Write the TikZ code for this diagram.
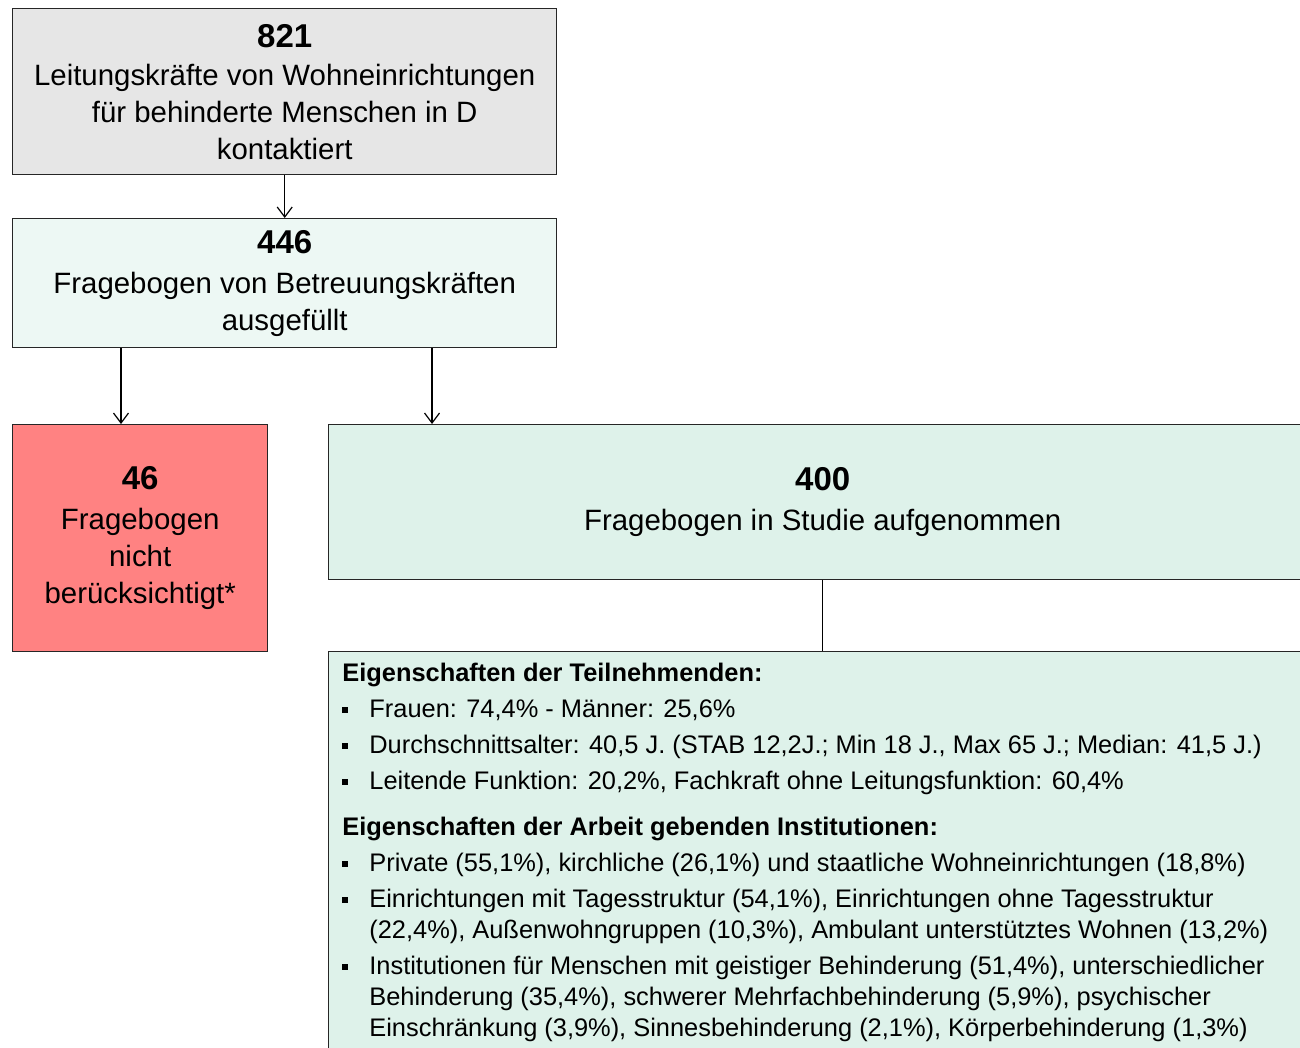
\documentclass[tikz,border=0pt]{standalone}
\usepackage{fontspec}
\setmainfont{Liberation Sans}
\usetikzlibrary{arrows.meta}

\definecolor{kastengrau}{HTML}{E6E6E6}
\definecolor{hellmint}{HTML}{EDF8F4}
\definecolor{mint}{HTML}{DEF2EA}
\definecolor{hellrot}{HTML}{FF8282}

% Aufzaehlungspunkt
\newcommand{\pkt}{\makebox[13.5pt][l]{\rule[2.6pt]{2.8pt}{2.8pt}}}
\newcommand{\einzug}{\hspace*{13.5pt}}
% Fallzahl im Kasten
\newcommand{\zahl}[1]{{\fontsize{16.5}{18.5}\selectfont\bfseries #1}}

\begin{document}
\begin{tikzpicture}[x=0.5pt,y=-0.5pt,
    kasten/.style={draw=black!85, line width=0.7pt, anchor=north west,
        align=center, inner sep=0pt, font=\fontsize{14.7}{18.5}\selectfont},
    pfeil/.style={line width=0.6pt, -{Straight Barb[length=5pt,width=7.5pt]}},
    linie/.style={line width=0.6pt}]

    % Bildausschnitt
    \useasboundingbox (0,0) rectangle (1300,1048);

    % Kaesten
    \node[kasten, fill=kastengrau, minimum width=272pt, minimum height=83pt]
        (kontakt) at (12,8)
        {\zahl{821}\\[0.5pt]Leitungskräfte von Wohneinrichtungen\\für behinderte Menschen in D\\kontaktiert};
    \node[kasten, fill=hellmint, minimum width=272pt, minimum height=64.5pt]
        (ausgefuellt) at (12,218)
        {\zahl{446}\\[1.5pt]Fragebogen von Betreuungskräften\\ausgefüllt};
    \node[kasten, fill=hellrot, minimum width=127.5pt, minimum height=113.5pt]
        (ausschluss) at (12,424)
        {\zahl{46}\\[1.5pt]Fragebogen\\nicht\\berücksichtigt*};
    \node[kasten, fill=mint, minimum width=494pt, minimum height=77.5pt]
        (studie) at (328,424)
        {\zahl{400}\\[1.5pt]Fragebogen in Studie aufgenommen};
    \node[kasten, fill=mint, minimum width=494pt, minimum height=210pt]
        (merkmale) at (328,651) {};

    % Text der Merkmale
    \node[anchor=north west, align=left, inner sep=0pt,
        font=\fontsize{12.7}{15.5}\selectfont] (merkmaltext) at (342,663)
        {{\bfseries Eigenschaften der Teilnehmenden:}\\[2.5pt]
        \pkt Frauen: 74,4\% - Männer: 25,6\%\\[2.5pt]
        \pkt Durchschnittsalter: 40,5 J. (STAB 12,2J.; Min 18 J., Max 65 J.; Median: 41,5 J.)\\[2.5pt]
        \pkt Leitende Funktion: 20,2\%, Fachkraft ohne Leitungsfunktion: 60,4\%\\[7.5pt]
        {\bfseries Eigenschaften der Arbeit gebenden Institutionen:}\\[2.5pt]
        \pkt Private (55,1\%), kirchliche (26,1\%) und staatliche Wohneinrichtungen (18,8\%)\\[2.5pt]
        \pkt Einrichtungen mit Tagesstruktur (54,1\%), Einrichtungen ohne Tagesstruktur\\
        \einzug (22,4\%), Außenwohngruppen (10,3\%), Ambulant unterstütztes Wohnen (13,2\%)\\[2.5pt]
        \pkt Institutionen für Menschen mit geistiger Behinderung (51,4\%), unterschiedlicher\\
        \einzug Behinderung (35,4\%), schwerer Mehrfachbehinderung (5,9\%), psychischer\\
        \einzug Einschränkung (3,9\%), Sinnesbehinderung (2,1\%), Körperbehinderung (1,3\%)};

    % Verbindungen
    \draw[pfeil] (kontakt.south) -- (ausgefuellt.north);
    \draw[pfeil] ([xshift=54.5pt]ausgefuellt.south west) -- ([xshift=54.5pt]ausschluss.north west);
    \draw[pfeil] ([xshift=210pt]ausgefuellt.south west) -- ([xshift=52pt]studie.north west);
    \draw[linie] (studie.south) -- (merkmale.north);
\end{tikzpicture}
\end{document}
